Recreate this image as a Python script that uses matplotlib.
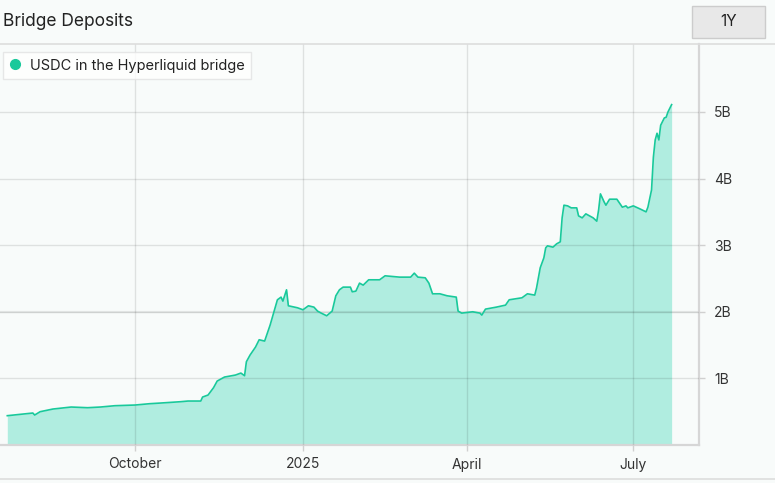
import matplotlib
matplotlib.use("Agg")
import matplotlib.pyplot as plt
from matplotlib.lines import Line2D
from matplotlib.patches import Rectangle
import pandas as pd

plt.rcParams['font.family'] = ['Inter', 'DejaVu Sans']

# USDC held in the Hyperliquid bridge, billions
dates = [
    "2024-07-23", "2024-08-06", "2024-08-07", "2024-08-10", "2024-08-17", "2024-08-27",
    "2024-09-05", "2024-09-12", "2024-09-20", "2024-10-01", "2024-10-09", "2024-10-15",
    "2024-10-26", "2024-10-30", "2024-11-06", "2024-11-07", "2024-11-10", "2024-11-13",
    "2024-11-15", "2024-11-19", "2024-11-25", "2024-11-28", "2024-11-30", "2024-12-01",
    "2024-12-03", "2024-12-06", "2024-12-08", "2024-12-11", "2024-12-14", "2024-12-18",
    "2024-12-20", "2024-12-21", "2024-12-23", "2024-12-24", "2024-12-29", "2025-01-01",
    "2025-01-04", "2025-01-07", "2025-01-09", "2025-01-11", "2025-01-14", "2025-01-17",
    "2025-01-19", "2025-01-21", "2025-01-23", "2025-01-27", "2025-01-28", "2025-01-30",
    "2025-02-01", "2025-02-03", "2025-02-06", "2025-02-12", "2025-02-15", "2025-02-23",
    "2025-03-01", "2025-03-03", "2025-03-05", "2025-03-09", "2025-03-11", "2025-03-13",
    "2025-03-17", "2025-03-21", "2025-03-26", "2025-03-27", "2025-03-29", "2025-04-04",
    "2025-04-08", "2025-04-09", "2025-04-11", "2025-04-17", "2025-04-22", "2025-04-24",
    "2025-05-01", "2025-05-04", "2025-05-08", "2025-05-09", "2025-05-11", "2025-05-13",
    "2025-05-14", "2025-05-15", "2025-05-18", "2025-05-20", "2025-05-22", "2025-05-23",
    "2025-05-24", "2025-05-26", "2025-05-28", "2025-05-31", "2025-06-01", "2025-06-03",
    "2025-06-05", "2025-06-09", "2025-06-11", "2025-06-12", "2025-06-13", "2025-06-15",
    "2025-06-16", "2025-06-18", "2025-06-22", "2025-06-25", "2025-06-27", "2025-06-28",
    "2025-07-01", "2025-07-05", "2025-07-08", "2025-07-09", "2025-07-11", "2025-07-12",
    "2025-07-13", "2025-07-14", "2025-07-15", "2025-07-16", "2025-07-18", "2025-07-19",
    "2025-07-20", "2025-07-22",
]
usdc_b = [
    0.44, 0.48, 0.45, 0.50, 0.54, 0.57,
    0.56, 0.57, 0.59, 0.60, 0.62, 0.63,
    0.65, 0.66, 0.66, 0.72, 0.75, 0.86,
    0.96, 1.02, 1.05, 1.08, 1.04, 1.25,
    1.35, 1.47, 1.58, 1.56, 1.80, 2.18,
    2.22, 2.16, 2.33, 2.09, 2.06, 2.03,
    2.09, 2.07, 2.01, 1.98, 1.94, 2.01,
    2.24, 2.33, 2.37, 2.37, 2.30, 2.31,
    2.43, 2.40, 2.48, 2.48, 2.54, 2.52,
    2.52, 2.58, 2.52, 2.51, 2.43, 2.27,
    2.27, 2.24, 2.22, 2.01, 1.98, 2.00,
    1.98, 1.95, 2.04, 2.07, 2.10, 2.18,
    2.21, 2.27, 2.25, 2.36, 2.66, 2.81,
    2.96, 2.99, 2.97, 3.02, 3.05, 3.41,
    3.60, 3.59, 3.56, 3.56, 3.44, 3.41,
    3.47, 3.41, 3.36, 3.53, 3.77, 3.65,
    3.60, 3.69, 3.69, 3.57, 3.59, 3.56,
    3.59, 3.54, 3.50, 3.57, 3.83, 4.32,
    4.58, 4.68, 4.58, 4.80, 4.91, 4.92,
    5.00, 5.11,
]
y_ticks = [1, 2, 3, 4, 5]
x_tick_dates = ["2024-10-01", "2025-01-01", "2025-04-01", "2025-07-01"]
x_tick_labels = ["October", "2025", "April", "July"]

bg = "#f8fbfa"
line_c = "#19c99b"
fill_c = "#b0ede0"

W, H = 775, 483
fig = plt.figure(figsize=(W / 100, H / 100), dpi=100, facecolor=bg)
# plot area in pixels: x 0..699, y 44..445
ax = fig.add_axes([0 / W, (H - 445) / H, 699 / W, (445 - 44) / H], facecolor=bg)

x = pd.to_datetime(dates)
ax.fill_between(x, usdc_b, 0, color=fill_c, lw=0, zorder=1)
ax.plot(x, usdc_b, color=line_c, lw=1.2, zorder=3)

ax.set_xlim(pd.Timestamp("2024-07-19"), pd.Timestamp("2025-08-06"))
ax.set_ylim(0, 6.02)

ax.set_xticks(pd.to_datetime(x_tick_dates))
ax.set_xticklabels(x_tick_labels)
ax.set_yticks(y_ticks)
ax.set_yticklabels([f"{v}B" for v in y_ticks])
ax.yaxis.tick_right()

ax.grid(True, color="#000000", alpha=0.1, lw=1, zorder=2)
ax.axhline(2, color="#000000", alpha=0.07, lw=1.6, zorder=2)
ax.set_axisbelow(False)

for side in ["top", "left"]:
    ax.spines[side].set_visible(False)
for side in ["right", "bottom"]:
    ax.spines[side].set_color("#d6d6d6")
    ax.spines[side].set_linewidth(1.6)

ax.tick_params(axis="both", colors="#d0d0d0", labelcolor="#333333", labelsize=10, length=4, width=1)
ax.tick_params(axis="y", pad=7)
ax.tick_params(axis="x", pad=5)

handle = Line2D([], [], marker="o", color="none", markerfacecolor=line_c,
                markeredgecolor=line_c, markersize=7)
leg = ax.legend([handle], ["USDC in the Hyperliquid bridge"], loc="upper left",
                bbox_to_anchor=(3 / 699, 1 - 8 / 401), fontsize=10.5, frameon=True,
                fancybox=False, handlelength=0.8, handletextpad=0.6, borderpad=0.45,
                borderaxespad=0)
leg.get_frame().set_facecolor("white")
leg.get_frame().set_alpha(0.8)
leg.get_frame().set_edgecolor("#e2e2e2")
leg.get_frame().set_linewidth(1)
for t in leg.get_texts():
    t.set_color("#222222")

# header
fig.text(3 / W, 1 - 21 / H, "Bridge Deposits", fontsize=12.5, color="#222222", va="center", ha="left")
fig.patches.append(Rectangle((692 / W, 1 - 38 / H), 73 / W, 32 / H, transform=fig.transFigure,
                             facecolor="#e8e8e8", edgecolor="#cccccc", lw=1))
fig.text(729 / W, 1 - 22 / H, "1Y", fontsize=11, color="#222222", va="center", ha="center")
fig.add_artist(Line2D([0, 1], [1 - 44 / H, 1 - 44 / H], transform=fig.transFigure, color="#dddddd", lw=1.2))
fig.add_artist(Line2D([0, 1], [1 - 479 / H, 1 - 479 / H], transform=fig.transFigure, color="#dddddd", lw=1.2))

fig.savefig("out.png", dpi=100, facecolor=bg)
